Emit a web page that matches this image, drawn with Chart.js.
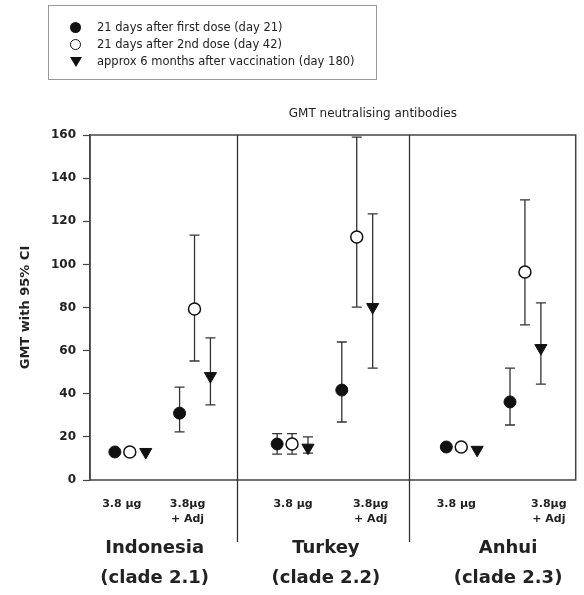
<!DOCTYPE html>
<html>
<head>
<meta charset="utf-8">
<script src="https://cdn.jsdelivr.net/npm/chart.js@4"></script>
<style>
  body { margin: 0; background: #fff; }
  #wrap { position: relative; width: 584px; height: 595px; }
  #chart { position: absolute; left: 0; top: 0; }
  #legend {
    position: absolute; left: 48px; top: 5px; width: 329px; height: 75px;
    box-sizing: border-box; border: 1px solid #999; padding-top: 13px;
    font: 11.5px 'DejaVu Sans', sans-serif; color: #222; line-height: 17px;
  }
  .row { display: flex; align-items: center; height: 17px; padding-left: 21px; white-space: nowrap; }
  .mk { display: inline-block; width: 11px; height: 11px; margin-right: 16px; box-sizing: border-box; }
  .mk.filled { background: #111; border-radius: 50%; }
  .mk.open { border: 1.5px solid #111; border-radius: 50%; background: #fff; }
  .mk.tri { width: 0; height: 0; border-left: 6px solid transparent; border-right: 6px solid transparent; border-top: 10px solid #111; margin-right: 15px; }
</style>
</head>
<body>
<div id="wrap">
  <canvas id="chart" width="584" height="595"></canvas>
  <div id="legend"></div>
</div>
<script>
// groups / categories
const regions = ['Indonesia', 'Turkey', 'Anhui'];
const clades = ['(clade 2.1)', '(clade 2.2)', '(clade 2.3)'];
const doseLabels = ['3.8 µg', ['3.8µg', '+ Adj']];
const seriesNames = [
  '21 days after first dose (day 21)',
  '21 days after 2nd dose (day 42)',
  'approx 6 months after vaccination (day 180)'
];
const yTicks = [0, 20, 40, 60, 80, 100, 120, 140, 160];

// order: Indonesia 3.8, Indonesia +Adj, Turkey 3.8, Turkey +Adj, Anhui 3.8, Anhui +Adj
const day21 = [13, 31, 16.7, 41.7, 15.3, 36.2];
const day21Low = [null, 22.3, 12, 26.9, null, 25.5];
const day21High = [null, 43.1, 21.5, 64, null, 51.9];
const day42 = [13, 79.3, 16.7, 112.7, 15.3, 96.5];
const day42Low = [null, 55.2, 12, 80.2, null, 71.9];
const day42High = [null, 113.6, 21.5, 159, null, 129.9];
const day180 = [13, 48.2, 15, 80.2, 14, 61.2];
const day180Low = [null, 34.8, 12.5, 51.9, null, 44.5];
const day180High = [null, 65.9, 20, 123.4, null, 82.1];

// layout on the x scale (units ~ chart-area pixels)
const xMax = 488;
const panelEdges = [148, 321];
const clusterX = [40, 105, 203, 268, 373, 437];
const seriesOffset = [-15, 0, 16];
const doseTickX = [32, 98, 204, 282, 368, 461];
const regionX = [65, 237, 420];

const font = "'DejaVu Sans', sans-serif";
Chart.defaults.font.family = font;
Chart.defaults.color = '#222';

// html legend
const legendEl = document.getElementById('legend');
const markerClass = ['filled', 'open', 'tri'];
seriesNames.forEach((name, i) => {
  const row = document.createElement('div');
  row.className = 'row';
  const mk = document.createElement('span');
  mk.className = 'mk ' + markerClass[i];
  row.appendChild(mk);
  row.appendChild(document.createTextNode(name));
  legendEl.appendChild(row);
});

function toPoints(values, s) {
  return values.map((v, i) => ({ x: clusterX[i] + seriesOffset[s], y: v }));
}

const errors = [[day21Low, day21High], [day42Low, day42High], [day180Low, day180High]];

const errorBars = {
  id: 'errorBars',
  beforeDatasetsDraw(chart) {
    const ctx = chart.ctx;
    const y = chart.scales.y;
    ctx.save();
    ctx.strokeStyle = '#333';
    ctx.lineWidth = 1.3;
    chart.data.datasets.forEach((ds, s) => {
      const meta = chart.getDatasetMeta(s);
      const [lo, hi] = errors[s];
      meta.data.forEach((pt, i) => {
        if (lo[i] == null) return;
        const x = pt.x, y1 = y.getPixelForValue(lo[i]), y2 = y.getPixelForValue(hi[i]);
        ctx.beginPath();
        ctx.moveTo(x, y1); ctx.lineTo(x, y2);
        ctx.moveTo(x - 5, y1); ctx.lineTo(x + 5, y1);
        ctx.moveTo(x - 5, y2); ctx.lineTo(x + 5, y2);
        ctx.stroke();
      });
    });
    ctx.restore();
  }
};

const frame = {
  id: 'frame',
  afterDraw(chart) {
    const { ctx, chartArea: a } = chart;
    const x = chart.scales.x;
    ctx.save();
    ctx.strokeStyle = '#444';
    ctx.lineWidth = 1.5;
    ctx.strokeRect(a.left, a.top, a.right - a.left, a.bottom - a.top);
    ctx.strokeStyle = '#333';
    ctx.lineWidth = 1.3;
    panelEdges.forEach(v => {
      const px = Math.round(x.getPixelForValue(v)) + 0.5;
      ctx.beginPath();
      ctx.moveTo(px, a.top);
      ctx.lineTo(px, a.bottom + 62);
      ctx.stroke();
    });
    // title
    ctx.fillStyle = '#222';
    ctx.textAlign = 'center';
    ctx.textBaseline = 'middle';
    ctx.font = '12px ' + font;
    ctx.fillText('GMT neutralising antibodies', (a.left + a.right) / 2 + 40, a.top - 21);
    // region labels
    ctx.font = 'bold 18px ' + font;
    regions.forEach((r, i) => {
      const px = x.getPixelForValue(regionX[i]);
      ctx.fillText(r, px, a.bottom + 68);
      ctx.fillText(clades[i], px, a.bottom + 98);
    });
    ctx.restore();
  }
};

new Chart(document.getElementById('chart'), {
  type: 'scatter',
  data: {
    datasets: [
      { label: seriesNames[0], data: toPoints(day21, 0), pointStyle: 'circle', pointRadius: 6,
        backgroundColor: '#111', borderColor: '#111', borderWidth: 1 },
      { label: seriesNames[1], data: toPoints(day42, 1), pointStyle: 'circle', pointRadius: 6,
        backgroundColor: '#fff', borderColor: '#111', borderWidth: 1.5 },
      { label: seriesNames[2], data: toPoints(day180, 2), pointStyle: 'triangle', rotation: 180, pointRadius: 7,
        backgroundColor: '#111', borderColor: '#111', borderWidth: 1 }
    ]
  },
  options: {
    responsive: false,
    animation: false,
    devicePixelRatio: 1,
    layout: { padding: { top: 135, right: 6, left: 0, bottom: 0 } },
    plugins: { legend: { display: false }, tooltip: { enabled: false } },
    scales: {
      x: {
        type: 'linear', min: 0, max: xMax,
        afterFit: s => { s.height = 115; },
        afterBuildTicks: s => { s.ticks = doseTickX.map(v => ({ value: v })); },
        grid: { display: false, drawTicks: false },
        border: { display: false },
        ticks: {
          autoSkip: false, maxRotation: 0, padding: 17,
          font: { size: 11, weight: 'bold', lineHeight: 1.35 }, color: '#222',
          callback: (v, i) => doseLabels[i % 2]
        }
      },
      y: {
        min: 0, max: 160,
        afterFit: s => { s.width = 90; },
        afterBuildTicks: s => { s.ticks = yTicks.map(v => ({ value: v })); },
        grid: { drawOnChartArea: false, tickLength: 7, color: '#444', tickWidth: 1.2 },
        border: { display: true, color: '#444', width: 1.5 },
        ticks: { padding: 7, font: { size: 12, weight: 'bold' }, color: '#222' },
        title: {
          display: true, text: 'GMT with 95% CI', color: '#222',
          font: { size: 13, weight: 'bold' }, padding: { top: 18 }
        }
      }
    }
  },
  plugins: [errorBars, frame]
});
</script>
</body>
</html>
